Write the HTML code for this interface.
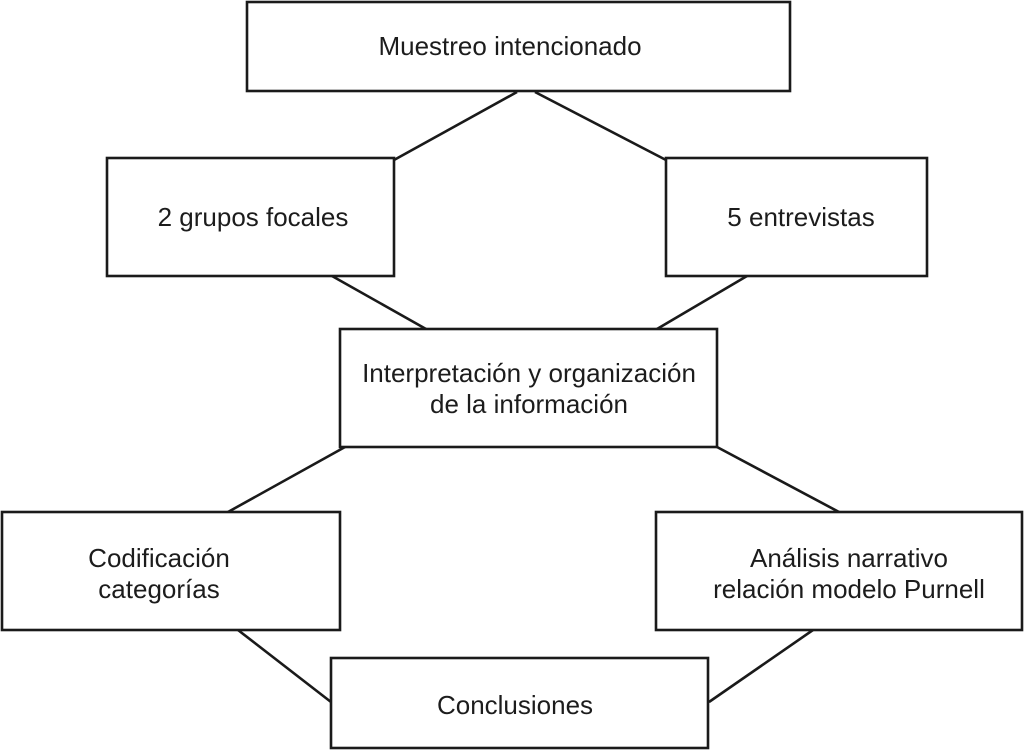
<!DOCTYPE html>
<html>
<head>
<meta charset="utf-8">
<style>
  html, body { margin: 0; padding: 0; background: #ffffff; }
  svg { display: block; }
  text { font-family: "Liberation Sans", Arial, sans-serif; font-size: 26px; fill: #1c1c1c; }
</style>
</head>
<body>
<svg width="1024" height="750" viewBox="0 0 1024 750" xmlns="http://www.w3.org/2000/svg">
  <rect x="0" y="0" width="1024" height="750" fill="#ffffff"/>
  <g stroke="#1a1a1a" stroke-width="2.6" fill="none">
    <!-- connectors -->
    <line x1="517" y1="92" x2="394" y2="160"/>
    <line x1="535" y1="92" x2="666" y2="160"/>
    <line x1="332" y1="276" x2="426" y2="329"/>
    <line x1="747" y1="276" x2="657" y2="329"/>
    <line x1="345" y1="447" x2="228" y2="512"/>
    <line x1="717" y1="447" x2="839" y2="512"/>
    <line x1="238" y1="630" x2="331" y2="702"/>
    <line x1="813" y1="630" x2="709" y2="702"/>
  </g>
  <g stroke="#1a1a1a" stroke-width="2.6" fill="#ffffff">
    <rect x="247" y="2" width="543" height="89"/>
    <rect x="107" y="158" width="287" height="118"/>
    <rect x="666" y="158" width="261" height="118"/>
    <rect x="340" y="329" width="377" height="118"/>
    <rect x="2" y="512" width="338" height="118"/>
    <rect x="656" y="512" width="366" height="118"/>
    <rect x="331" y="658" width="377" height="90"/>
  </g>
  <g text-anchor="middle">
    <text x="510" y="55">Muestreo intencionado</text>
    <text x="253" y="226">2 grupos focales</text>
    <text x="801" y="226">5 entrevistas</text>
    <text x="529" y="382">Interpretación y organización</text>
    <text x="529" y="413">de la información</text>
    <text x="159" y="567">Codificación</text>
    <text x="159" y="598">categorías</text>
    <text x="849" y="567">Análisis narrativo</text>
    <text x="849" y="598">relación modelo Purnell</text>
    <text x="515" y="714">Conclusiones</text>
  </g>
</svg>
</body>
</html>
